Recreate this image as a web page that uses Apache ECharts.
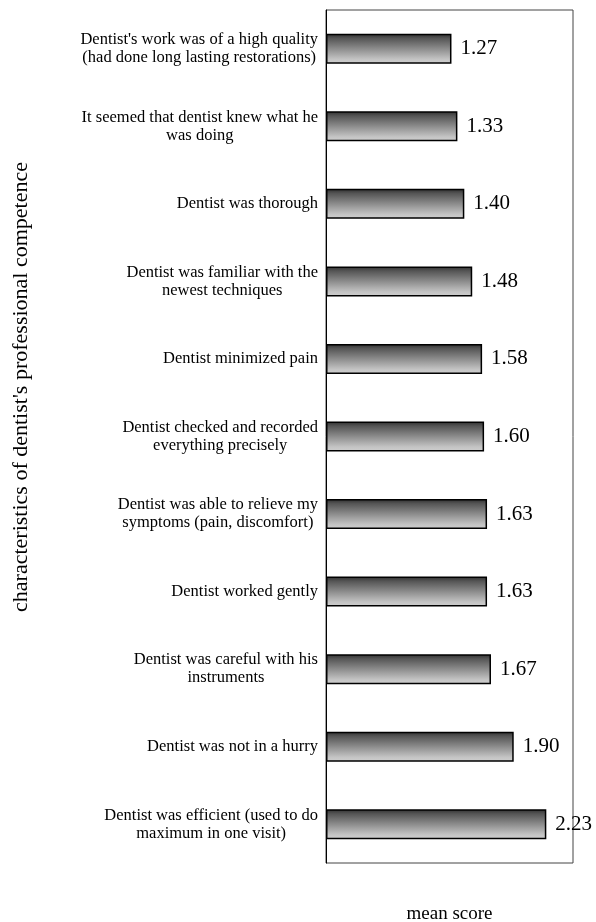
<!DOCTYPE html>
<html>
<head>
<meta charset="utf-8">
<script src="https://cdn.jsdelivr.net/npm/echarts@6/dist/echarts.min.js"></script>
<style>
  html, body { margin: 0; padding: 0; background: #fff; }
  #chart { width: 596px; height: 922px; }
</style>
</head>
<body>
<div id="chart"></div>
<script>
// Characteristics of the dentist's professional competence, top to bottom
var categories = [
  "Dentist's work was of a high quality\n(had done long lasting restorations)",
  "It seemed that dentist knew what he\nwas doing",
  "Dentist was thorough",
  "Dentist was familiar with the\nnewest techniques",
  "Dentist minimized pain",
  "Dentist checked and recorded\neverything precisely",
  "Dentist was able to relieve my\nsymptoms (pain, discomfort)",
  "Dentist worked gently",
  "Dentist was careful with his\ninstruments",
  "Dentist was not in a hurry",
  "Dentist was efficient (used to do\nmaximum in one visit)"
];
// Mean score for each characteristic
var meanScores = [1.27, 1.33, 1.40, 1.48, 1.58, 1.60, 1.63, 1.63, 1.67, 1.90, 2.23];

var axisTitleY = "characteristics of dentist's professional competence";
var axisTitleX = "mean score";

var serif = "'Liberation Serif', 'Times New Roman', serif";

var chart = echarts.init(document.getElementById('chart'));
chart.setOption({
  animation: false,
  backgroundColor: '#fff',
  grid: {
    left: 326, right: 23, top: 10, bottom: 59,
    outerBoundsMode: 'none',
    show: true, borderColor: '#444', borderWidth: 1, backgroundColor: 'transparent'
  },
  xAxis: {
    type: 'value', min: 0, max: 2.5,
    axisLabel: { show: false }, axisTick: { show: false }, splitLine: { show: false },
    axisLine: { show: false },
    name: axisTitleX, nameLocation: 'middle', nameGap: 42,
    nameTextStyle: { fontFamily: serif, fontSize: 19, color: '#000' }
  },
  yAxis: {
    type: 'category', inverse: true, data: categories,
    axisLine: { show: true, lineStyle: { color: '#000', width: 1 } },
    axisTick: { show: false },
    axisLabel: {
      align: 'right', margin: 8,
      // each line centred within the right-aligned block
      formatter: function (v) {
        return v.split('\n').map(function (s) { return '{c|' + s + '}'; }).join('\n');
      },
      rich: {
        c: { fontFamily: serif, fontSize: 16.5, color: '#000', lineHeight: 18, align: 'center' }
      }
    }
  },
  graphic: [{
    type: 'text', left: 10, top: 162, rotation: Math.PI / 2,
    style: { text: axisTitleY, font: '22px ' + serif, fill: '#000' }
  }],
  series: [{
    type: 'bar', data: meanScores, barWidth: 30,
    itemStyle: {
      color: new echarts.graphic.LinearGradient(0, 0, 0, 1, [
        { offset: 0, color: '#2e2e2e' },
        { offset: 0.15, color: '#555' },
        { offset: 0.85, color: '#c4c4c4' },
        { offset: 1, color: '#cfcfcf' }
      ]),
      borderColor: '#000', borderWidth: 1.5
    },
    label: {
      show: true, position: 'right', distance: 9,
      fontFamily: serif, fontSize: 21, color: '#000',
      formatter: function (p) { return p.value.toFixed(2); }
    }
  }]
});
</script>
</body>
</html>
